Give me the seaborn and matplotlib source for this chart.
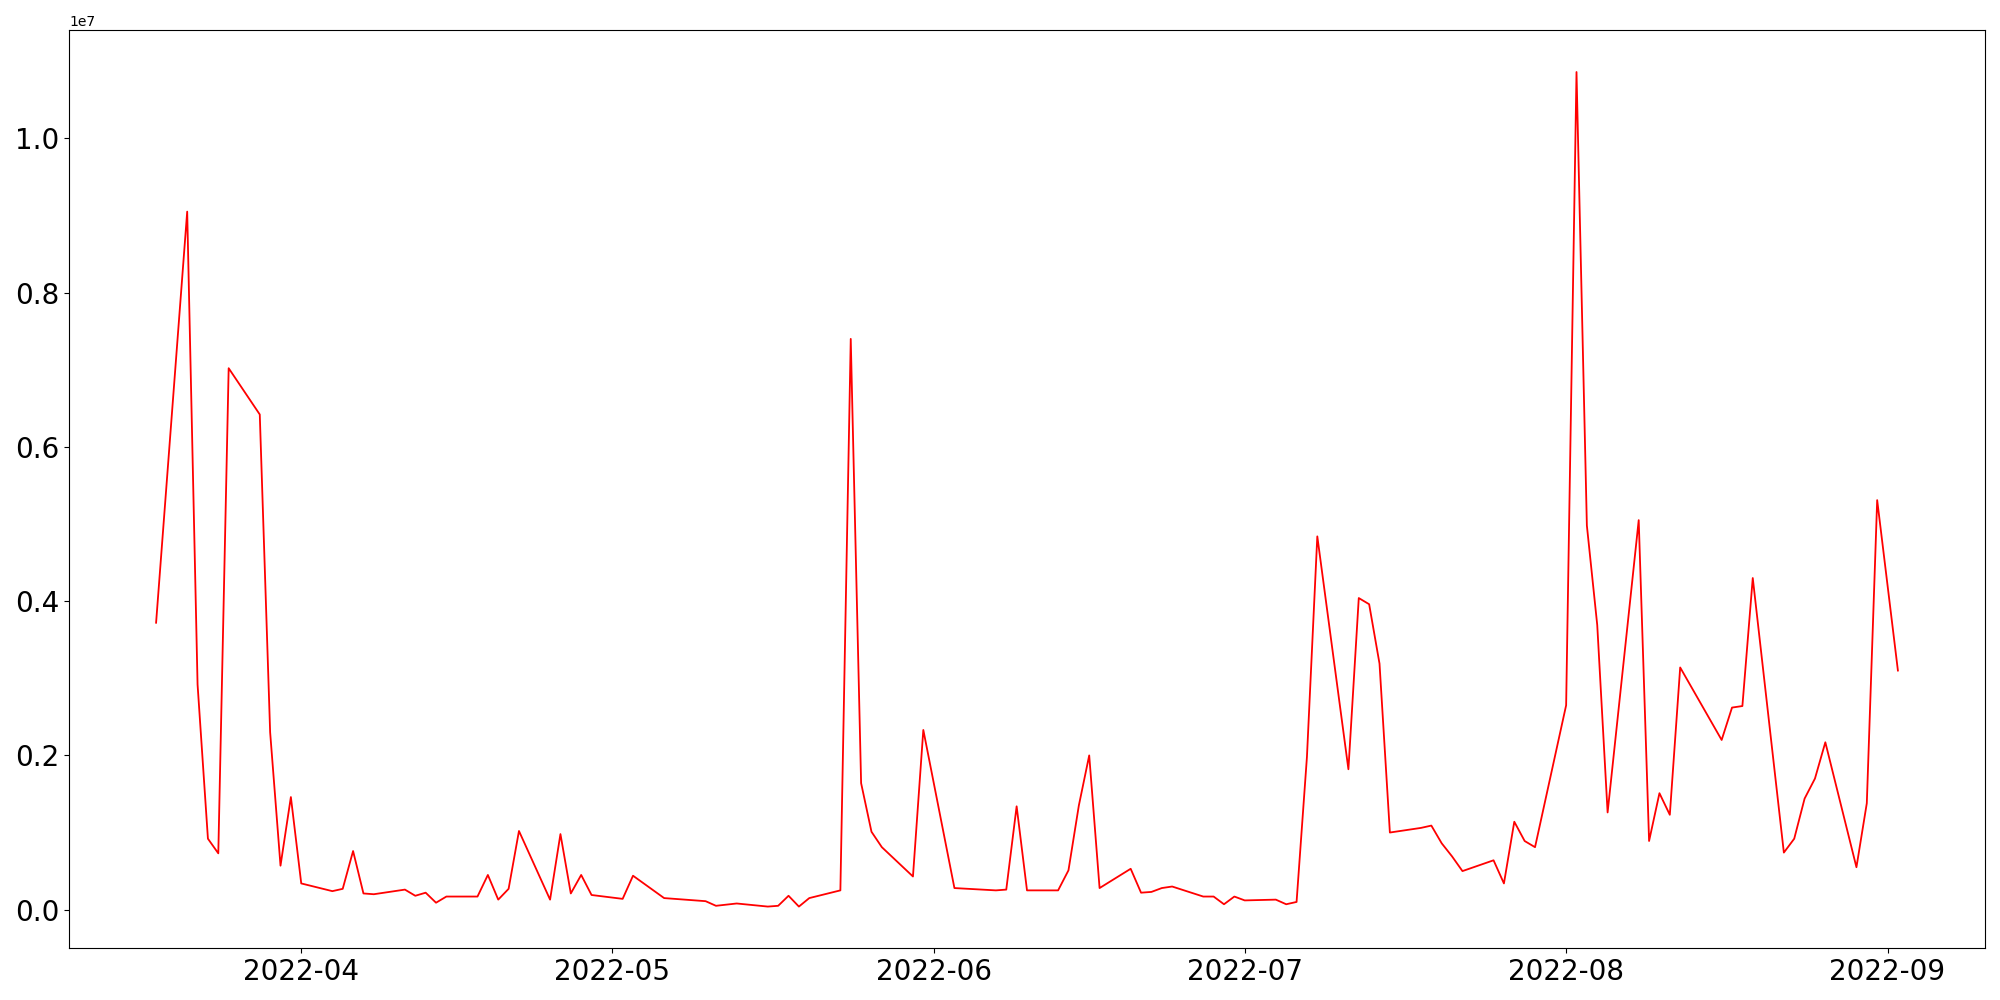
import pandas as pd
import matplotlib
matplotlib.use('Agg')
import matplotlib.pyplot as plt
import seaborn as sns

dates = [
    '2022-03-18', '2022-03-21', '2022-03-22', '2022-03-23', '2022-03-24', '2022-03-25',
    '2022-03-28', '2022-03-29', '2022-03-30', '2022-03-31', '2022-04-01',
    '2022-04-04', '2022-04-05', '2022-04-06', '2022-04-07', '2022-04-08',
    '2022-04-11', '2022-04-12', '2022-04-13', '2022-04-14', '2022-04-15',
    '2022-04-18', '2022-04-19', '2022-04-20', '2022-04-21', '2022-04-22',
    '2022-04-25', '2022-04-26', '2022-04-27', '2022-04-28', '2022-04-29',
    '2022-05-02', '2022-05-03', '2022-05-06', '2022-05-10', '2022-05-11', '2022-05-13',
    '2022-05-16', '2022-05-17', '2022-05-18', '2022-05-19', '2022-05-20',
    '2022-05-23', '2022-05-24', '2022-05-25', '2022-05-26', '2022-05-27',
    '2022-05-30', '2022-05-31', '2022-06-03',
    '2022-06-07', '2022-06-08', '2022-06-09', '2022-06-10',
    '2022-06-13', '2022-06-14', '2022-06-15', '2022-06-16', '2022-06-17',
    '2022-06-20', '2022-06-21', '2022-06-22', '2022-06-23', '2022-06-24',
    '2022-06-27', '2022-06-28', '2022-06-29', '2022-06-30', '2022-07-01',
    '2022-07-04', '2022-07-05', '2022-07-06', '2022-07-07', '2022-07-08',
    '2022-07-11', '2022-07-12', '2022-07-13', '2022-07-14', '2022-07-15',
    '2022-07-18', '2022-07-19', '2022-07-20', '2022-07-21', '2022-07-22',
    '2022-07-25', '2022-07-26', '2022-07-27', '2022-07-28', '2022-07-29',
    '2022-08-01', '2022-08-02', '2022-08-03', '2022-08-04', '2022-08-05',
    '2022-08-08', '2022-08-09', '2022-08-10', '2022-08-11', '2022-08-12',
    '2022-08-16', '2022-08-17', '2022-08-18', '2022-08-19',
    '2022-08-22', '2022-08-23', '2022-08-24', '2022-08-25', '2022-08-26',
    '2022-08-29', '2022-08-30', '2022-08-31', '2022-09-02',
]

# values in millions
volume_m = [
    3.72, 9.05, 2.92, 0.92, 0.73, 7.02,
    6.42, 2.30, 0.57, 1.46, 0.34,
    0.24, 0.27, 0.76, 0.21, 0.20,
    0.26, 0.18, 0.22, 0.09, 0.17,
    0.17, 0.45, 0.13, 0.27, 1.02,
    0.13, 0.98, 0.21, 0.45, 0.19,
    0.14, 0.44, 0.15, 0.11, 0.05, 0.08,
    0.04, 0.05, 0.18, 0.04, 0.15,
    0.25, 7.40, 1.64, 1.01, 0.81,
    0.43, 2.33, 0.28,
    0.25, 0.26, 1.34, 0.25,
    0.25, 0.51, 1.35, 2.00, 0.28,
    0.53, 0.22, 0.23, 0.28, 0.30,
    0.17, 0.17, 0.07, 0.17, 0.12,
    0.13, 0.07, 0.10, 1.98, 4.84,
    1.82, 4.04, 3.96, 3.19, 1.00,
    1.06, 1.09, 0.86, 0.69, 0.50,
    0.64, 0.34, 1.14, 0.89, 0.81,
    2.65, 10.86, 4.98, 3.69, 1.26,
    5.05, 0.89, 1.51, 1.23, 3.14,
    2.20, 2.62, 2.64, 4.30,
    0.74, 0.92, 1.44, 1.70, 2.17,
    0.55, 1.38, 5.31, 3.10,
]

x = pd.to_datetime(dates)
y = [v * 1e6 for v in volume_m]

fig = plt.figure(figsize=(20, 10), dpi=100)
ax = sns.lineplot(x=x, y=y, color='red', linewidth=1.3)
plt.xticks(fontsize=20)
plt.yticks(fontsize=20)
ax.set_xlabel('')
ax.set_ylabel('')
fig.subplots_adjust(left=0.0345, right=0.9925, top=0.9697, bottom=0.0517)
plt.savefig('out.png', dpi=100)
